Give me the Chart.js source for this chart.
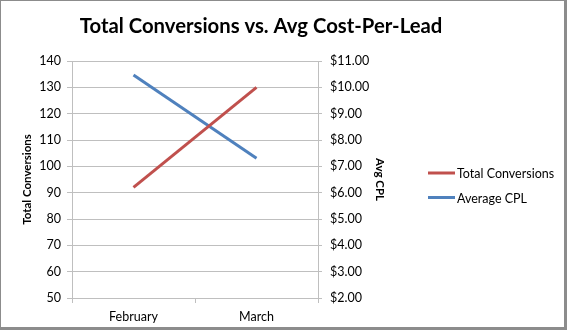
<!DOCTYPE html>
<html>
<head>
<meta charset="utf-8">
<script src="https://cdn.jsdelivr.net/npm/chart.js@4"></script>
<style>
  html, body { margin: 0; padding: 0; background: #fff; }
  #wrap { width: 567px; height: 330px; position: relative; }
</style>
</head>
<body>
<div id="wrap"><canvas id="chart" width="567" height="330"></canvas></div>
<script>
// --- Data ---
const months = ['February', 'March'];
const totalConversions = [92, 130];
const avgCpl = [10.47, 7.31];
const chartTitle = 'Total Conversions vs. Avg Cost-Per-Lead';

const FONT = 'Lato, "Liberation Sans", sans-serif';
const RED = '#C0504D';
const BLUE = '#4F81BD';
const GRID = '#BFBFBF';

// frame, title and side legend drawn Excel-style
const decorPlugin = {
    id: 'decor',
    afterDraw(chart) {
        const ctx = chart.ctx;
        ctx.save();
        // outer frame
        ctx.strokeStyle = '#8C8C8C';
        ctx.lineWidth = 1;
        ctx.strokeRect(0.5, 0.5, chart.width - 1, chart.height - 1);
        ctx.fillStyle = '#8C8C8C';
        ctx.fillRect(chart.width - 3, 0, 3, chart.height);
        ctx.fillRect(0, chart.height - 3, chart.width, 3);

        // title
        ctx.fillStyle = '#000';
        ctx.font = 'bold 20.3px ' + FONT;
        ctx.textAlign = 'center';
        ctx.textBaseline = 'middle';
        ctx.fillText(chartTitle, 261, 26);

        // legend
        ctx.font = '12.5px ' + FONT;
        ctx.textAlign = 'left';
        chart.data.datasets.forEach((ds, i) => {
            const y = 173 + i * 24.5;
            ctx.strokeStyle = ds.borderColor;
            ctx.lineWidth = 3;
            ctx.beginPath();
            ctx.moveTo(428, y);
            ctx.lineTo(455, y);
            ctx.stroke();
            ctx.fillStyle = '#000';
            ctx.fillText(ds.label, 457, y + 1);
        });
        ctx.restore();
    }
};

new Chart(document.getElementById('chart'), {
    type: 'line',
    data: {
        labels: months,
        datasets: [{
            label: 'Total Conversions',
            data: totalConversions,
            borderColor: RED,
            backgroundColor: RED,
            borderWidth: 3,
            pointRadius: 0,
            yAxisID: 'y'
        }, {
            label: 'Average CPL',
            data: avgCpl,
            borderColor: BLUE,
            backgroundColor: BLUE,
            borderWidth: 3,
            pointRadius: 0,
            yAxisID: 'y2'
        }]
    },
    options: {
        responsive: false,
        animation: false,
        layout: { padding: { left: 0, right: 150, top: 61, bottom: 0 } },
        plugins: {
            title: { display: false },
            legend: { display: false },
            tooltip: { enabled: false }
        },
        scales: {
            x: {
                offset: true,
                grid: {
                    offset: true,
                    drawOnChartArea: false,
                    drawTicks: true,
                    tickLength: 5,
                    color: GRID
                },
                border: { color: GRID },
                ticks: { color: '#000', font: { family: FONT, size: 12.5 }, padding: 6 }
            },
            y: {
                position: 'left',
                min: 50,
                max: 140,
                ticks: { stepSize: 10, color: '#000', font: { family: FONT, size: 12.5 }, padding: 6 },
                grid: { color: GRID, tickLength: 5 },
                border: { color: GRID },
                title: {
                    display: true,
                    text: 'Total Conversions',
                    color: '#000',
                    font: { family: FONT, size: 11.5, weight: 'bold' },
                    padding: { top: 20, bottom: 4 }
                },
                afterFit(scale) { scale.width = 72; }
            },
            y2: {
                position: 'right',
                min: 2,
                max: 11,
                ticks: {
                    stepSize: 1,
                    color: '#000',
                    font: { family: FONT, size: 12.5 },
                    padding: 8,
                    callback: v => '$' + v.toFixed(2)
                },
                grid: { drawOnChartArea: false, color: GRID, tickLength: 4 },
                border: { color: GRID },
                title: {
                    display: true,
                    text: 'Avg CPL',
                    color: '#000',
                    font: { family: FONT, size: 11.5, weight: 'bold' },
                    padding: { top: 30, bottom: 4 }
                },
                afterFit(scale) { scale.width = 99; }
            }
        }
    },
    plugins: [decorPlugin]
});
</script>
</body>
</html>
